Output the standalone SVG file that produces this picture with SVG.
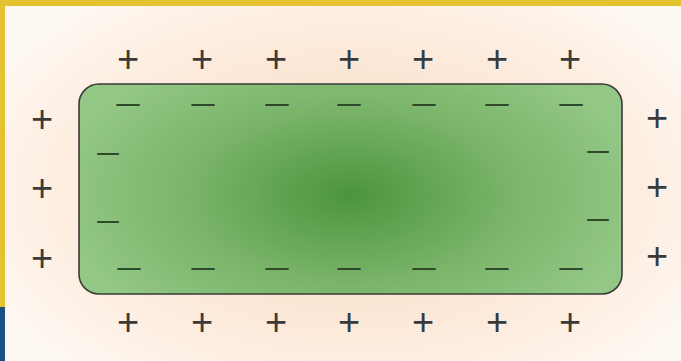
<svg xmlns="http://www.w3.org/2000/svg" width="681" height="361" viewBox="0 0 681 361">
<defs>
<radialGradient id="bg" cx="350" cy="190" r="400" gradientUnits="userSpaceOnUse" gradientTransform="translate(350 190) scale(1 0.6) translate(-350 -190)">
<stop offset="0" stop-color="#f9d9bd"/>
<stop offset="0.75" stop-color="#fdeee2"/>
<stop offset="1" stop-color="#fef8f2"/>
</radialGradient>
<radialGradient id="green" cx="350" cy="195" r="290" gradientUnits="userSpaceOnUse" gradientTransform="translate(350 195) scale(1 0.55) translate(-350 -195)">
<stop offset="0" stop-color="#4c953c"/>
<stop offset="0.55" stop-color="#7ab469"/>
<stop offset="1" stop-color="#92c785"/>
</radialGradient>
<style>
.p{font-family:"Liberation Sans",Arial,sans-serif;font-size:38px;fill:#3a3a3a;text-anchor:middle}
.m{font-family:"Liberation Sans",Arial,sans-serif;font-size:30px;fill:#2f4a2a;text-anchor:middle}
</style>
</defs>
<rect x="0" y="0" width="681" height="361" fill="url(#bg)"/>
<rect x="0" y="0" width="681" height="6" fill="#e5c22f"/>
<rect x="0" y="0" width="5" height="307" fill="#e5c22f"/>
<rect x="0" y="307" width="5" height="54" fill="#1d4f82"/>
<g id="conductor">
<rect x="79" y="84" width="543" height="210" rx="20" fill="url(#green)" stroke="#3a3a3a" stroke-width="1.6"/>
</g>
<g id="positive-charges">
<text class="p" x="128" y="72">+</text>
<text class="p" x="202" y="72">+</text>
<text class="p" x="276" y="72">+</text>
<text class="p" x="349" y="72">+</text>
<text class="p" x="423" y="72">+</text>
<text class="p" x="497" y="72">+</text>
<text class="p" x="570" y="72">+</text>
<text class="p" x="128" y="335">+</text>
<text class="p" x="202" y="335">+</text>
<text class="p" x="276" y="335">+</text>
<text class="p" x="349" y="335">+</text>
<text class="p" x="423" y="335">+</text>
<text class="p" x="497" y="335">+</text>
<text class="p" x="570" y="335">+</text>
<text class="p" x="42" y="132">+</text>
<text class="p" x="42" y="201">+</text>
<text class="p" x="42" y="271">+</text>
<text class="p" x="657" y="131">+</text>
<text class="p" x="657" y="200">+</text>
<text class="p" x="657" y="269">+</text>
</g>
<g id="negative-charges">
<text class="m" x="128" y="115" textLength="28" lengthAdjust="spacingAndGlyphs">−</text>
<text class="m" x="203" y="115" textLength="28" lengthAdjust="spacingAndGlyphs">−</text>
<text class="m" x="277" y="115" textLength="28" lengthAdjust="spacingAndGlyphs">−</text>
<text class="m" x="349" y="115" textLength="28" lengthAdjust="spacingAndGlyphs">−</text>
<text class="m" x="424" y="115" textLength="28" lengthAdjust="spacingAndGlyphs">−</text>
<text class="m" x="497" y="115" textLength="28" lengthAdjust="spacingAndGlyphs">−</text>
<text class="m" x="571" y="115" textLength="28" lengthAdjust="spacingAndGlyphs">−</text>
<text class="m" x="129" y="279" textLength="28" lengthAdjust="spacingAndGlyphs">−</text>
<text class="m" x="203" y="279" textLength="28" lengthAdjust="spacingAndGlyphs">−</text>
<text class="m" x="277" y="279" textLength="28" lengthAdjust="spacingAndGlyphs">−</text>
<text class="m" x="349" y="279" textLength="28" lengthAdjust="spacingAndGlyphs">−</text>
<text class="m" x="424" y="279" textLength="28" lengthAdjust="spacingAndGlyphs">−</text>
<text class="m" x="497" y="279" textLength="28" lengthAdjust="spacingAndGlyphs">−</text>
<text class="m" x="571" y="279" textLength="28" lengthAdjust="spacingAndGlyphs">−</text>
<text class="m" x="108" y="164" textLength="26" lengthAdjust="spacingAndGlyphs">−</text>
<text class="m" x="108" y="232" textLength="26" lengthAdjust="spacingAndGlyphs">−</text>
<text class="m" x="598" y="162" textLength="26" lengthAdjust="spacingAndGlyphs">−</text>
<text class="m" x="598" y="230" textLength="26" lengthAdjust="spacingAndGlyphs">−</text>
</g>
</svg>
